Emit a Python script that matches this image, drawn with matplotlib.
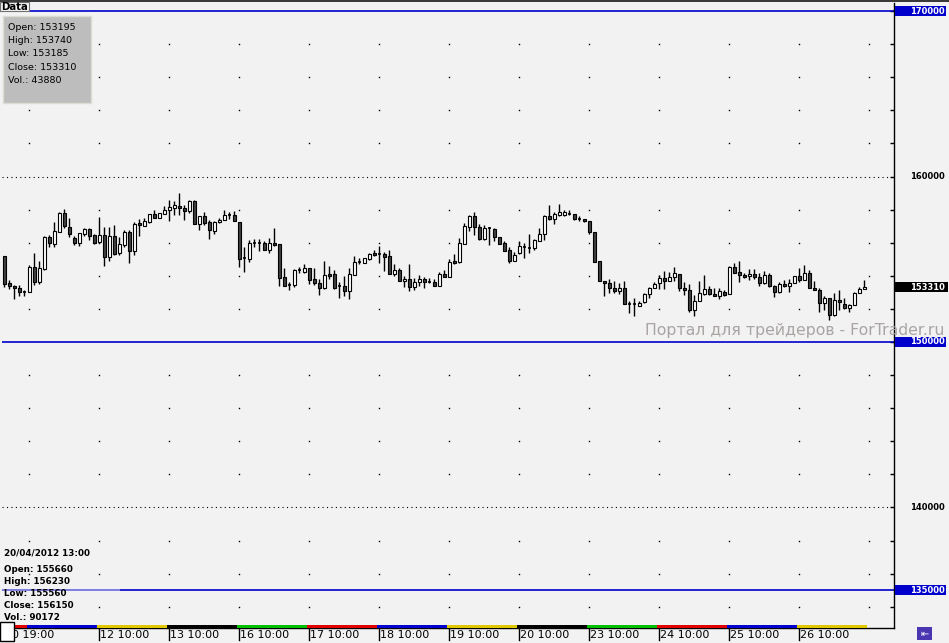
import matplotlib
matplotlib.use('Agg')
import matplotlib.pyplot as plt
import matplotlib.transforms as mtransforms
from matplotlib.patches import Rectangle

# hourly bars, 10/04/2012 19:00 ... 26/04/2012 10:00
opens = [155200, 153580, 153400, 153280, 153020, 153020, 154540, 153600, 154420, 156340,
         155940, 156660, 157780, 156940, 156260, 156000, 156540, 156820, 156480, 156020,
         156460, 155120, 156380, 155360, 155880, 156640, 155500, 157200, 157040, 157260,
         157720, 157520, 157760, 157980, 158100, 158200, 158120, 157920, 158500, 157140,
         157640, 157240, 156720, 157240, 157400, 157660, 157660, 157280, 155060, 155040,
         155980, 155960, 155980, 155560, 155980, 155920, 153920, 153440, 153420, 154340,
         154260, 154460, 153800, 153560, 153260, 154120, 154100, 153360, 153380, 153060,
         154020, 154860, 154800, 155000, 155400, 155300, 155320, 155180, 154140, 154360,
         153680, 153800, 153300, 153600, 153800, 153620, 153620, 153360, 154100, 153900,
         154900, 154860, 155940, 156960, 157600, 156940, 156220, 156880, 156820, 156320,
         156000, 155560, 154920, 155360, 155740, 155680, 155660, 156120, 156500, 157600,
         157440, 157680, 157680, 157720, 157720, 157440, 157440, 157340, 156620, 154880,
         153660, 153560, 153280, 153060, 153260, 152300, 152280, 152200, 152420, 152900,
         153240, 153540, 153880, 153680, 153920, 154120, 153280, 153160, 151940, 152460,
         152900, 153200, 152920, 152760, 153040, 152880, 154540, 154240, 154040, 153960,
         154100, 153920, 153540, 154040, 153360, 153000, 153500, 153360, 153540, 153980,
         153720, 154160, 153280, 153160, 152340, 152660, 151660, 152560, 152300, 152040,
         152240, 152980, 153195]
highs = [155200, 153760, 153420, 153460, 153160, 154660, 155400, 154920, 156400, 156460,
         157240, 157840, 158020, 157480, 156420, 156580, 156900, 156880, 156540, 157560,
         156960, 156940, 157080, 156360, 156760, 156780, 157240, 157440, 157480, 157760,
         157960, 157820, 158200, 158600, 158500, 158980, 158280, 158560, 158560, 157640,
         157880, 157360, 157340, 157520, 157960, 157840, 157900, 157280, 155760, 156160,
         156200, 156200, 156120, 156260, 156880, 155920, 154480, 153640, 154420, 154540,
         154720, 154460, 154460, 153820, 154920, 154600, 154360, 153620, 154000, 154460,
         155220, 155080, 155060, 155380, 155560, 155800, 155440, 155560, 154720, 154460,
         153960, 154720, 153840, 154040, 153920, 153840, 153800, 154240, 154360, 155000,
         155320, 156280, 157200, 157680, 157840, 157120, 157100, 156940, 156900, 156320,
         156100, 155720, 155440, 156080, 155960, 156520, 156230, 156900, 157680, 158260,
         157840, 158360, 157960, 157960, 157720, 157640, 157440, 157340, 156660, 154880,
         153660, 153820, 153700, 153560, 153700, 152460, 152660, 152500, 152980, 153320,
         153640, 154060, 154300, 154220, 154540, 154120, 153620, 153520, 152860, 153700,
         154040, 153400, 153260, 153260, 153160, 154580, 154780, 154900, 154160, 154400,
         154400, 154200, 154300, 154160, 153460, 153640, 153760, 153800, 153980, 154460,
         154640, 154360, 153700, 153260, 152760, 152660, 152980, 153160, 152680, 152320,
         153040, 153320, 153740]
lows = [153320, 153200, 152600, 152800, 152760, 153020, 153460, 153480, 154360, 155720,
        155740, 156660, 156920, 156320, 155880, 155800, 156380, 156160, 155920, 155960,
        154620, 154920, 155260, 155240, 155760, 154800, 155260, 156420, 157000, 157180,
        157480, 157500, 157720, 157320, 157660, 157680, 157400, 157800, 157140, 156780,
        157080, 156240, 156520, 157200, 157360, 157460, 157320, 154560, 154260, 154860,
        155720, 155520, 155580, 155400, 155820, 153400, 153360, 153120, 153320, 154160,
        154160, 153520, 153460, 152820, 153220, 153820, 153220, 152640, 152800, 152620,
        154020, 154740, 154800, 154960, 155200, 154780, 154300, 154140, 154000, 153660,
        153340, 153060, 153160, 153360, 153240, 153540, 153360, 153360, 153900, 153900,
        154700, 154760, 155940, 156720, 156460, 156160, 156160, 155840, 156100, 155900,
        155520, 154800, 154880, 155320, 155100, 155400, 155560, 156120, 156160, 157360,
        157160, 157600, 157600, 157700, 157400, 157300, 157240, 156540, 154820, 153680,
        152800, 152940, 152940, 152880, 152300, 151760, 151560, 152160, 152380, 152640,
        153240, 153200, 153200, 153680, 153660, 153100, 152840, 151800, 151560, 152460,
        152860, 152840, 152760, 152600, 152800, 152880, 154160, 153600, 153880, 153760,
        153800, 153360, 153500, 153320, 152700, 152940, 153320, 153040, 153540, 153640,
        153720, 153240, 153140, 151800, 151960, 151360, 151600, 151920, 152020, 151840,
        152240, 152960, 153185]
closes = [153520, 153360, 153240, 153000, 153020, 154540, 153600, 154460, 156340, 155960,
          156700, 157800, 157000, 156500, 156000, 156580, 156820, 156420, 156000, 156480,
          155120, 156400, 155340, 155920, 156620, 155520, 157120, 157100, 157300, 157720,
          157520, 157780, 158000, 158140, 158260, 158100, 157920, 158500, 157140, 157640,
          157220, 156800, 157280, 157400, 157660, 157660, 157320, 155040, 155060, 155980,
          155980, 155960, 155580, 155980, 155860, 153840, 153360, 153440, 154360, 154340,
          154460, 153760, 153540, 153240, 154040, 154000, 153280, 153360, 153060, 154100,
          154820, 154860, 155060, 155320, 155280, 155300, 155160, 154140, 154360, 153660,
          153820, 153300, 153620, 153800, 153600, 153620, 153360, 154100, 153900, 154840,
          154800, 155980, 157000, 157600, 156960, 156220, 156880, 156880, 156320, 155900,
          155520, 154900, 155260, 155780, 155740, 155680, 156150, 156540, 157600, 157440,
          157720, 157880, 157840, 157720, 157440, 157440, 157340, 156620, 154820, 153680,
          153540, 153240, 153060, 153280, 152300, 152300, 152280, 152360, 152920, 153260,
          153500, 153880, 153680, 153920, 154160, 153260, 153140, 151940, 152480, 152960,
          153200, 152900, 152760, 153100, 152840, 154540, 154200, 154020, 153900, 154120,
          153900, 153540, 154040, 153360, 153020, 153500, 153360, 153560, 153980, 153720,
          154160, 153240, 153140, 152340, 152680, 151660, 152540, 152440, 152040, 152240,
          152960, 153200, 153310]
volume_last = 43880

# trading days: label, weekday colour, first bar index
day_names = ['10', '11', '12', '13', '16', '17', '18', '19', '20', '23', '24', '25', '26']
day_colors = ['#e00000', '#0000d0', '#e0c800', '#000000', '#00c000',
              '#e00000', '#0000d0', '#e0c800', '#000000', '#00c000',
              '#e00000', '#0000d0', '#e0c800']
day_start = [-1, 5, 19, 33, 47, 61, 75, 89, 103, 117, 131, 145, 159]
tick_labels = ['10 19:00', '12 10:00', '13 10:00', '16 10:00', '17 10:00', '18 10:00',
               '19 10:00', '20 10:00', '23 10:00', '24 10:00', '25 10:00', '26 10:00']
tick_pos = [0, 19, 33, 47, 61, 75, 89, 103, 117, 131, 145, 159]

blue_levels = [170000, 150000, 135000]
grey_levels = [160000, 140000]

hover = {'date': '20/04/2012 13:00', 'idx': 106, 'vol': 90172}

W, H = 949, 643
BG = '#f2f2f2'
fig = plt.figure(figsize=(W / 100, H / 100), dpi=100, facecolor=BG)
pix = mtransforms.Affine2D().scale(1.0 / W, -1.0 / H).translate(0, 1) + fig.transFigure

# price scale: 150000 at y=342 px, 60.45 per pixel
ppx = 60.45
ytop = 150000 + (342 - 3) * ppx
ybot = 150000 - (628 - 342) * ppx

ax = fig.add_axes([2 / W, 1 - 628 / H, 892 / W, 625 / H])
ax.set_facecolor(BG)
ax.set_ylim(ybot, ytop)
ax.set_xlim((2 - 4.3) / 5, (894 - 4.3) / 5)
for s in ['top', 'left']:
    ax.spines[s].set_visible(False)
ax.spines['right'].set_linewidth(1)
ax.spines['bottom'].set_linewidth(1)
ax.yaxis.tick_right()
ax.set_yticks(range(134000, 171000, 2000))
ax.tick_params(axis='y', direction='in', length=3, width=1, labelright=False)
ax.set_xticks([])

# dot grid
cols = [d + 0.0 for d in day_start[1:]] + [day_start[-1] + 14]
for lev in range(134000, 170000, 2000):
    if lev in grey_levels or lev in blue_levels:
        continue
    ax.plot(cols, [lev] * len(cols), ls='none', marker='s', ms=1.0, mew=0, color='black')
for lev in grey_levels:
    ax.axhline(lev, color='black', lw=0.8, ls=(0, (1, 3)))
for lev in blue_levels:
    ax.axhline(lev, color='#0000cc', lw=1.2)

# candles
n = len(opens)
xs = list(range(n))
ax.vlines(xs, lows, highs, color='black', lw=1, zorder=3)
for i in xs:
    o, c = opens[i], closes[i]
    if abs(c - o) < 30:
        ax.hlines((o + c) / 2, i - 0.35, i + 0.35, color='black', lw=1.2, zorder=4)
    else:
        fill = 'white' if c > o else '#404040'
        ax.bar(i, abs(c - o), bottom=min(o, c), width=0.7, color=fill,
               edgecolor='black', linewidth=0.8, zorder=4)

# weekday colour band and time labels
tr = ax.get_xaxis_transform()
for k in range(len(day_names)):
    x0 = max(day_start[k], 0) - 0.5
    x1 = day_start[k] + 13.5
    ax.add_patch(Rectangle((x0, 0), x1 - x0, 3 / 625, transform=tr, color=day_colors[k],
                           lw=0, zorder=5, clip_on=False))
for p, lab in zip(tick_pos, tick_labels):
    ax.plot([p - 0.1, p - 0.1], [0, -12 / 625], transform=tr, color='black', lw=1, clip_on=False)
    ax.text(p + 0.15, -6.5 / 625, lab, transform=tr, fontsize=8, va='center', ha='left',
            color='black', clip_on=False)

# right price panel
rax = fig.add_axes([894 / W, 1 - 628 / H, 55 / W, 625 / H])
rax.set_facecolor(BG)
rax.set_ylim(ybot, ytop)
rax.set_xlim(0, 55)
rax.axis('off')
bh = 10.5 * ppx
for lev in blue_levels:
    rax.add_patch(Rectangle((1, lev - bh / 2), 51, bh, color='#0000cc', lw=0))
    rax.text(51, lev, str(lev), color='white', fontsize=6, fontweight='bold', ha='right', va='center')
for lev in grey_levels:
    rax.text(51, lev, str(lev), color='black', fontsize=6, fontweight='bold', ha='right', va='center')
last = closes[-1]
rax.add_patch(Rectangle((1, last - bh / 2), 53, bh, color='black', lw=0))
rax.text(51, last, str(last), color='white', fontsize=6, fontweight='bold', ha='right', va='center')

# watermark
fig.text(944, 330, 'Портал для трейдеров - ForTrader.ru', transform=pix, fontsize=11.3,
         color='#aaa4a4', ha='right', va='center')

# top bar and Data tab
fig.patches.append(Rectangle((0, 0), W, 1.6, transform=pix, color='#3a3a3a', lw=0))
fig.patches.append(Rectangle((0, 1.6), 29, 9.5, transform=pix, facecolor='#f4f4f4',
                             edgecolor='#707070', lw=0.8))
fig.text(1.5, 6.5, 'Data', transform=pix, fontsize=7.3, fontweight='bold', va='center', ha='left')

# OHLC box of the last bar
fig.patches.append(Rectangle((3, 16), 88, 87, transform=pix, facecolor='#bdbdbd',
                             edgecolor='#dcdcd4', lw=1))
box_lines = ['Open: %d' % opens[-1], 'High: %d' % highs[-1], 'Low: %d' % lows[-1],
             'Close: %d' % closes[-1], 'Vol.: %d' % volume_last]
for k, t in enumerate(box_lines):
    fig.text(8, 27.5 + 13.2 * k, t, transform=pix, fontsize=6.8, va='center', ha='left')

# hovered bar info, bottom left
j = hover['idx']
hov_lines = [hover['date'], '', 'Open: %d' % opens[j], 'High: %d' % highs[j], 'Low: %d' % lows[j],
             'Close: %d' % closes[j], 'Vol.: %d' % hover['vol']]
ys = [553, 0, 569, 581.5, 593.5, 605.5, 617.5]
for t, y in zip(hov_lines, ys):
    if t:
        fig.text(4, y, t, transform=pix, fontsize=6.3, fontweight='bold', va='center', ha='left')
fig.patches.append(Rectangle((2, 589.4), 118, 1.4, transform=pix, color='#8080e0', lw=0))

# corner boxes
fig.patches.append(Rectangle((0, 622), 14, 19, transform=pix, facecolor='white',
                             edgecolor='black', lw=1))
fig.patches.append(Rectangle((917, 627), 15, 13, transform=pix, facecolor='#4a36b0', lw=0))
fig.text(924.5, 633.5, '⇤', transform=pix, fontsize=7, color='white', ha='center', va='center')

fig.savefig('out.png', dpi=100, facecolor=BG)
